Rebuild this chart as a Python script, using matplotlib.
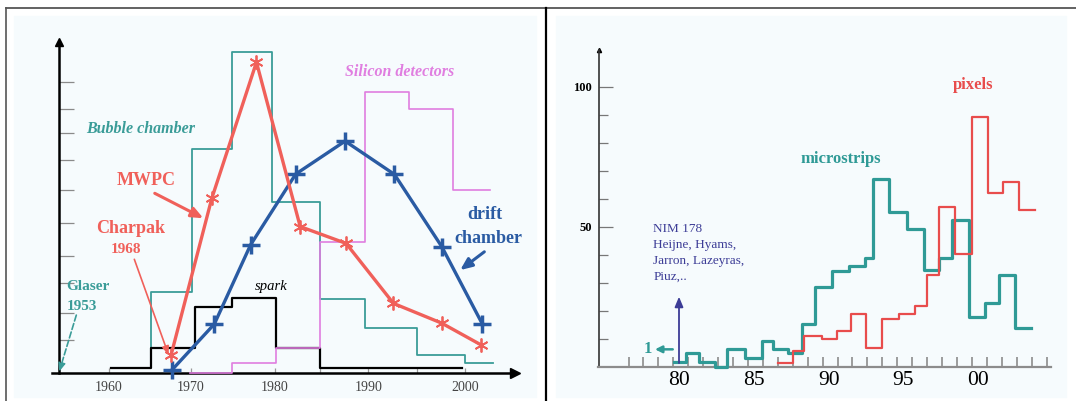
import numpy as np
import matplotlib.pyplot as plt
from matplotlib.lines import Line2D
from matplotlib.patches import Rectangle

plt.rcParams['font.family'] = 'Liberation Serif'

# ---- left: detector types through the years (arbitrary units) ----
bubble_edges = [1965.1, 1970.1, 1974.9, 1979.6, 1985.0, 1989.7, 1995.0, 2000.0, 2002.9]
bubble_vals = [27.0, 74.6, 106.8, 57.0, 24.5, 15.0, 5.9, 3.1]
spark_edges = [1960.2, 1965.1, 1970.5, 1974.9, 1980.1, 1985.0, 1999.7]
spark_vals = [1.7, 8.3, 22.0, 24.8, 8.3, 1.7]
silicon_edges = [1969.9, 1974.9, 1980.1, 1985.0, 1989.7, 1994.2, 1998.8, 2002.6]
silicon_vals = [0.0, 3.1, 8.3, 43.7, 93.5, 87.9, 60.9]
mwpc_years = [1967.6, 1972.5, 1977.8, 1982.8, 1987.7, 1992.6, 1997.6, 2001.7]
mwpc_vals = [5.9, 58.1, 103.5, 48.7, 43.1, 23.1, 16.5, 9.2]
drift_years = [1967.7, 1972.8, 1977.1, 1982.3, 1987.6, 1992.7, 1997.6, 2001.8]
drift_vals = [0.9, 16.2, 42.6, 66.2, 77.2, 66.1, 42.0, 16.2]

decade_ticks = [1960, 1970, 1980, 1985, 1990, 1995, 2000]
decade_labels = ['1960', '1970', '1980', '', '1990', '', '2000']
left_yticks = [11, 20, 30, 39, 50, 61, 71, 80, 88, 97]

# ---- right: silicon papers per year ----
strip_edges = [79.65, 80.45, 81.34, 82.39, 83.17, 84.40, 85.52, 86.26, 87.30,
               88.25, 89.12, 90.25, 91.37, 92.44, 92.99, 94.07, 95.23, 96.39,
               97.41, 98.29, 99.42, 100.48, 101.42, 102.49, 103.56]
strip_vals = [1.8, 4.8, 1.8, 0.0, 6.2, 3.2, 9.2, 6.2, 4.8, 15.2, 28.5, 34.2,
              36.0, 38.9, 67.0, 55.4, 49.2, 34.4, 39.0, 52.4, 17.9, 22.6, 32.7, 13.9]
pixel_edges = [86.63, 87.64, 88.35, 89.54, 90.58, 91.48, 92.48, 93.60, 94.72,
               95.79, 96.62, 97.41, 98.46, 99.58, 100.70, 101.66, 102.75, 103.82]
pixel_vals = [1.2, 5.7, 11.1, 9.9, 12.9, 18.7, 6.6, 16.9, 18.7, 21.6, 32.9,
              57.2, 40.2, 89.1, 61.9, 66.1, 56.0]

year_ticks = [80, 85, 90, 95, 100]
year_labels = ['80', '85', '90', '95', '00']
nim_lines = ['NIM 178', 'Heijne, Hyams,', 'Jarron, Lazeyras,', 'Piuz,..']

# colours
teal = '#3a9c98'
magenta = '#e07ee0'
red = '#f0605a'
blue = '#2a5ba3'
teal2 = '#2f9a96'
red2 = '#e84c4c'
navy = '#3c3c96'


def stair_xy(edges, vals, start=None):
    x = np.repeat(edges, 2)[1:-1]
    y = np.repeat(vals, 2)
    if start is not None:
        x = np.r_[edges[0], x]
        y = np.r_[start, y]
    return x, y


W, H = 1076, 401
split = 546
fig = plt.figure(figsize=(W / 100, H / 100), dpi=100)
fig.patch.set_facecolor('white')

# light tinted cells and the table frame
fig.add_artist(Rectangle((14 / W, 4 / H), (536 - 14) / W, (H - 20) / H,
                         transform=fig.transFigure, color='#f6fbfd', zorder=-2))
fig.add_artist(Rectangle((556 / W, 4 / H), (1066 - 556) / W, (H - 20) / H,
                         transform=fig.transFigure, color='#f6fbfd', zorder=-2))
top = 1 - 7.5 / H
fig.add_artist(Line2D([6 / W, 1], [top, top], color='#555555', lw=1.3))
fig.add_artist(Line2D([6 / W, 6 / W], [0, top], color='#555555', lw=1.2))
fig.add_artist(Line2D([split / W, split / W], [0, top], color='black', lw=1.6))

axl = fig.add_axes([0, 0, split / W, 1])
axr = fig.add_axes([split / W, 0, (W - split) / W, 1])
for ax in (axl, axr):
    ax.set_facecolor('none')
    ax.spines[['top', 'right']].set_visible(False)

# ---------------- left panel ----------------
# the hand drawn year axis is not uniform, so map it piecewise
scale_years = [1940, 1950, 1960, 1970, 1980, 1985, 1990, 1995, 2000, 2010, 2020]
scale_px = [-54.4, 27.3, 109.0, 190.7, 275.0, 320.0, 368.3, 416.7, 465.0, 561.7, 658.4]


def fwd(x):
    return np.interp(x, scale_years, scale_px)


def inv(p):
    return np.interp(p, scale_px, scale_years)


axl.set_xscale('function', functions=(fwd, inv))
axl.set_xlim(inv(0), inv(split))
axl.set_ylim((372.7 - H) / 3, 372.7 / 3)

axl.spines['left'].set_position(('data', 1953.9))
axl.spines['left'].set_bounds(0, 110.3)
axl.spines['bottom'].set_position(('data', 0))
axl.spines['bottom'].set_bounds(1953.0, 2005.2)
for s in ('left', 'bottom'):
    axl.spines[s].set_linewidth(1.8)
    axl.spines[s].set_color('black')
axl.plot([2005.2], [0], marker='>', ms=7, color='black', clip_on=False)
axl.plot([1953.9], [110.3], marker='^', ms=6, color='black', clip_on=False)

axl.set_yticks(left_yticks)
axl.tick_params(axis='y', direction='in', length=10.8, width=0.9,
                color='#8a8a8a', labelleft=False)
axl.set_xticks(decade_ticks, labels=decade_labels)
axl.tick_params(axis='x', direction='in', length=3.5, width=0.9, color='#999999',
                labelsize=10, labelcolor='#444444', pad=6.3)

x, y = stair_xy(bubble_edges, bubble_vals, start=8.3)
axl.plot(x, y, color=teal, lw=1.3, zorder=2)
x, y = stair_xy(spark_edges, spark_vals)
axl.plot(x, y, color='black', lw=1.6, zorder=3)
x, y = stair_xy(silicon_edges, silicon_vals)
axl.plot(x, y, color=magenta, lw=1.2, zorder=3)

axl.plot(drift_years, drift_vals, color=blue, lw=2.4, marker='+', ms=13,
         mew=2.5, zorder=4)
axl.plot(mwpc_years, mwpc_vals, color=red, lw=2.4, marker=(6, 2, 0), ms=10,
         mew=1.3, zorder=5)

axl.text(1963.9, 81.2, 'Bubble chamber', color=teal, fontsize=11.5,
         fontweight='bold', fontstyle='italic', ha='center', va='center')
axl.text(1993.2, 100.3, 'Silicon detectors', color=magenta, fontsize=11.5,
         fontweight='bold', fontstyle='italic', ha='center', va='center')
axl.text(1964.5, 64.0, 'MWPC', color=red, fontsize=13, fontweight='bold',
         ha='center', va='center')
axl.text(1962.6, 48.1, 'Charpak', color=red, fontsize=13, fontweight='bold',
         ha='center', va='center')
axl.text(1962.1, 41.2, '1968', color=red, fontsize=11, fontweight='bold',
         ha='center', va='center')
axl.text(1954.8, 28.7, 'Glaser', color=teal, fontsize=11, fontweight='bold',
         ha='left', va='center')
axl.text(1954.8, 22.2, '1953', color=teal, fontsize=11, fontweight='bold',
         ha='left', va='center')
axl.text(1979.5, 28.7, 'spark', color='black', fontsize=10.5, fontstyle='italic',
         ha='center', va='center')
axl.text(2002.1, 52.6, 'drift', color=blue, fontsize=13, fontweight='bold',
         ha='center', va='center')
axl.text(2002.4, 44.8, 'chamber', color=blue, fontsize=13, fontweight='bold',
         ha='center', va='center')

axl.annotate('', xy=(1971.5, 51.5), xytext=(1965.6, 59.8),
             arrowprops=dict(arrowstyle='-|>,head_length=0.7,head_width=0.3',
                             color=red, lw=2.2, shrinkA=0, shrinkB=0))
axl.annotate('', xy=(1967.3, 5.9), xytext=(1963.1, 37.8),
             arrowprops=dict(arrowstyle='-|>,head_length=0.5,head_width=0.2',
                             color=red, lw=1.2, shrinkA=0, shrinkB=0))
axl.annotate('', xy=(1953.9, 0.3), xytext=(1956.0, 19.2),
             arrowprops=dict(arrowstyle='-|>,head_length=0.5,head_width=0.2',
                             color=teal, lw=1.2, ls='--', shrinkA=0, shrinkB=0))
axl.annotate('', xy=(1999.5, 34.2), xytext=(2002.0, 40.3),
             arrowprops=dict(arrowstyle='-|>,head_length=0.7,head_width=0.3',
                             color=blue, lw=2.2, shrinkA=0, shrinkB=0))

# ---------------- right panel ----------------
# 80 sits at x=679.3 px, 14.93 px per year; zero at y=366.7 px, 2.8 px per paper
axr.set_xlim(80 + (split - 679.3) / 14.93, 80 + (W - 679.3) / 14.93)
axr.set_ylim((366.7 - H) / 2.8, 366.7 / 2.8)

axr.spines['left'].set_position(('data', 74.62))
axr.spines['left'].set_bounds(0, 113.1)
axr.spines['left'].set_color('#333333')
axr.spines['left'].set_linewidth(1.2)
axr.spines['bottom'].set_position(('data', 0))
axr.spines['bottom'].set_bounds(74.56, 104.9)
axr.spines['bottom'].set_color('#8c8c8c')
axr.spines['bottom'].set_linewidth(1.6)
axr.plot([74.62], [113.1], marker='^', ms=3, color='black', clip_on=False)

axr.set_yticks([50, 100])
axr.set_yticks([10, 20, 30, 40, 60, 70, 80, 90], minor=True)
axr.tick_params(axis='y', which='major', direction='in', length=10, width=0.9,
                color='#777777', labelsize=9, pad=5)
axr.tick_params(axis='y', which='minor', direction='in', length=6.5, width=0.9,
                color='#777777')
for lab in axr.get_yticklabels():
    lab.set_fontweight('bold')
axr.set_xticks(year_ticks, labels=year_labels)
axr.set_xticks(np.arange(76, 105) + 0.6, minor=True)
axr.tick_params(axis='x', which='major', length=0, labelsize=15.5, pad=3)
axr.tick_params(axis='x', which='minor', direction='in', length=7, width=1.2,
                color='#8c8c8c')

x, y = stair_xy(strip_edges, strip_vals)
axr.plot(x, y, color=teal2, lw=2.3, zorder=3)
x, y = stair_xy(pixel_edges, pixel_vals)
axr.plot(x, y, color=red2, lw=1.6, zorder=4)

for i, line in enumerate(nim_lines):
    axr.text(78.26, 49.1 - 5.65 * i, line, color=navy, fontsize=9.5,
             ha='left', va='center')
axr.annotate('', xy=(79.98, 25.0), xytext=(79.98, 1.3),
             arrowprops=dict(arrowstyle='-|>,head_length=0.6,head_width=0.25',
                             color=navy, lw=1.3, shrinkA=0, shrinkB=0))
axr.text(77.92, 6.2, '1', color=teal2, fontsize=12, fontweight='bold',
         ha='center', va='center')
axr.annotate('', xy=(78.37, 6.2), xytext=(79.56, 6.2),
             arrowprops=dict(arrowstyle='-|>,head_length=0.4,head_width=0.2',
                             color=teal2, lw=1.8, shrinkA=0, shrinkB=0))
axr.text(90.83, 74.2, 'microstrips', color=teal2, fontsize=12,
         fontweight='bold', ha='center', va='center')
axr.text(99.65, 100.6, 'pixels', color=red2, fontsize=12, fontweight='bold',
         ha='center', va='center')

fig.savefig('out.png', dpi=100)
